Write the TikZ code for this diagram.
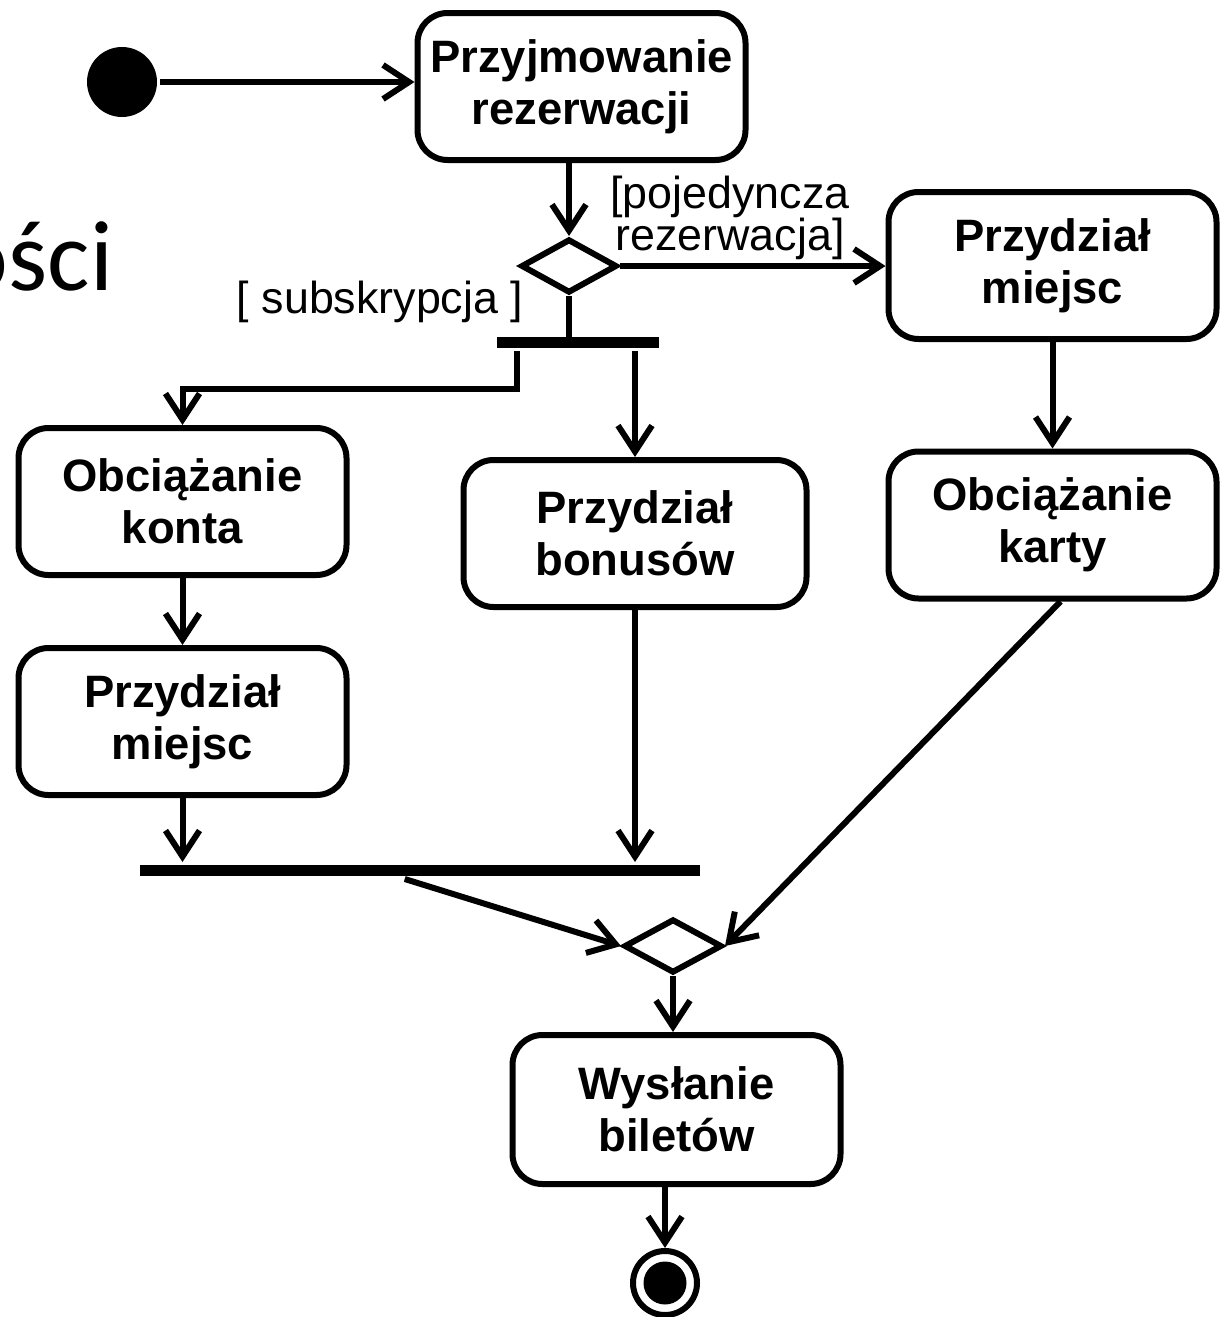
\documentclass[tikz,border=0pt]{standalone}
\usepackage{fontspec}
\setmainfont{Liberation Sans}
\newfontfamily\slidefont{Carlito}
\usetikzlibrary{arrows.meta, positioning, shapes.geometric, calc}

\begin{document}
\begin{tikzpicture}[
    x=0.5pt, y=-0.5pt,
    line width=3pt,
    act/.style={
      draw,
      rounded corners=15pt,
      align=center,
      inner sep=0pt,
      minimum width=164pt,
      minimum height=73.5pt,
      font=\bfseries\fontsize{22.7}{26}\selectfont,
    },
    decide/.style={
      diamond,
      draw,
      inner sep=0pt,
      minimum width=48pt,
      minimum height=27pt,
    },
    bar/.style={
      rectangle,
      fill=black,
      inner sep=0pt,
      minimum height=5.5pt,
    },
    guard/.style={
      inner sep=0pt,
      align=center,
      font=\fontsize{22.4}{21}\selectfont,
    },
    flow/.style={-{Straight Barb[length=13pt,width=17pt]}},
  ]
    \useasboundingbox (0,0) rectangle (1227,1317);

    % ---- title fragment ----
    \node[anchor=base east, inner sep=0pt,
      font=\slidefont\fontsize{50}{60}\selectfont] (title) at (116,290) {ości};

    % ---- start and reservation ----
    \node[circle, fill=black, inner sep=0pt, minimum size=35pt] (start) at (122,82) {};
    \node[act] (recv) at (581.5,86.5) {Przyjmowanie\\rezerwacji};
    \node[decide] (dec1) at (569,266) {};

    % ---- single reservation branch ----
    \node[act] (seatR) at (1052.5,265.5) {Przydział\\miejsc};
    \node[act] (card) at (1052.5,525) {Obciążanie\\karty};
    \node[guard] (gsingle) at (730,218) {[pojedyncza\\rezerwacja]};

    % ---- subscription branch ----
    \node[bar, minimum width=81pt] (fork) at (578,342.5) {};
    \node[guard] (gsub) at (380,302) {[ subskrypcja ]};
    \node[act] (account) at (182.5,501.5) {Obciążanie\\konta};
    \node[act] (seatL) at (182.5,721.5) {Przydział\\miejsc};
    \node[act, minimum width=171.5pt] (bonus) at (635,533.5) {Przydział\\bonusów};
    \node[bar, minimum width=280pt] (join) at (420,870.5) {};

    % ---- merge and end ----
    \node[decide, minimum width=49pt] (dec2) at (673,946) {};
    \node[act, minimum height=74.5pt] (send) at (676.5,1109.5) {Wysłanie\\biletów};
    \node[circle, draw, inner sep=0pt, minimum size=32pt] (stop) at (665,1283) {};
    \fill (stop.center) circle (10.75pt);

    % ---- connectors ----
    \draw[flow] (start.east) -- (start.east -| recv.west);
    \draw[flow] (dec1.north |- recv.south) -- (dec1.north);
    \draw[flow] (dec1.east) -- (dec1.east -| seatR.west);
    \draw (dec1.south) -- (dec1.south |- fork.center);
    \draw[flow] ([xshift=11.5pt]fork.south west) -- ++(0,38) -| (account.north);
    \draw[flow] (bonus.north |- fork.south) -- (bonus.north);
    \draw[flow] (seatR.south) -- (card.north);
    \draw[flow] (account.south) -- (seatL.north);
    \draw[flow] (seatL.south) -- (seatL.south |- join.north);
    \draw[flow] (bonus.south) -- (bonus.south |- join.north);
    \draw[flow] ($(join.south west)!0.473!(join.south east)$) -- (dec2.west);
    \draw[flow] ([xshift=4pt]card.south) -- (dec2.east);
    \draw[flow] (dec2.south) -- (dec2.south |- send.north);
    \draw[flow] (stop.north |- send.south) -- (stop.north);
  \end{tikzpicture}
\end{document}
